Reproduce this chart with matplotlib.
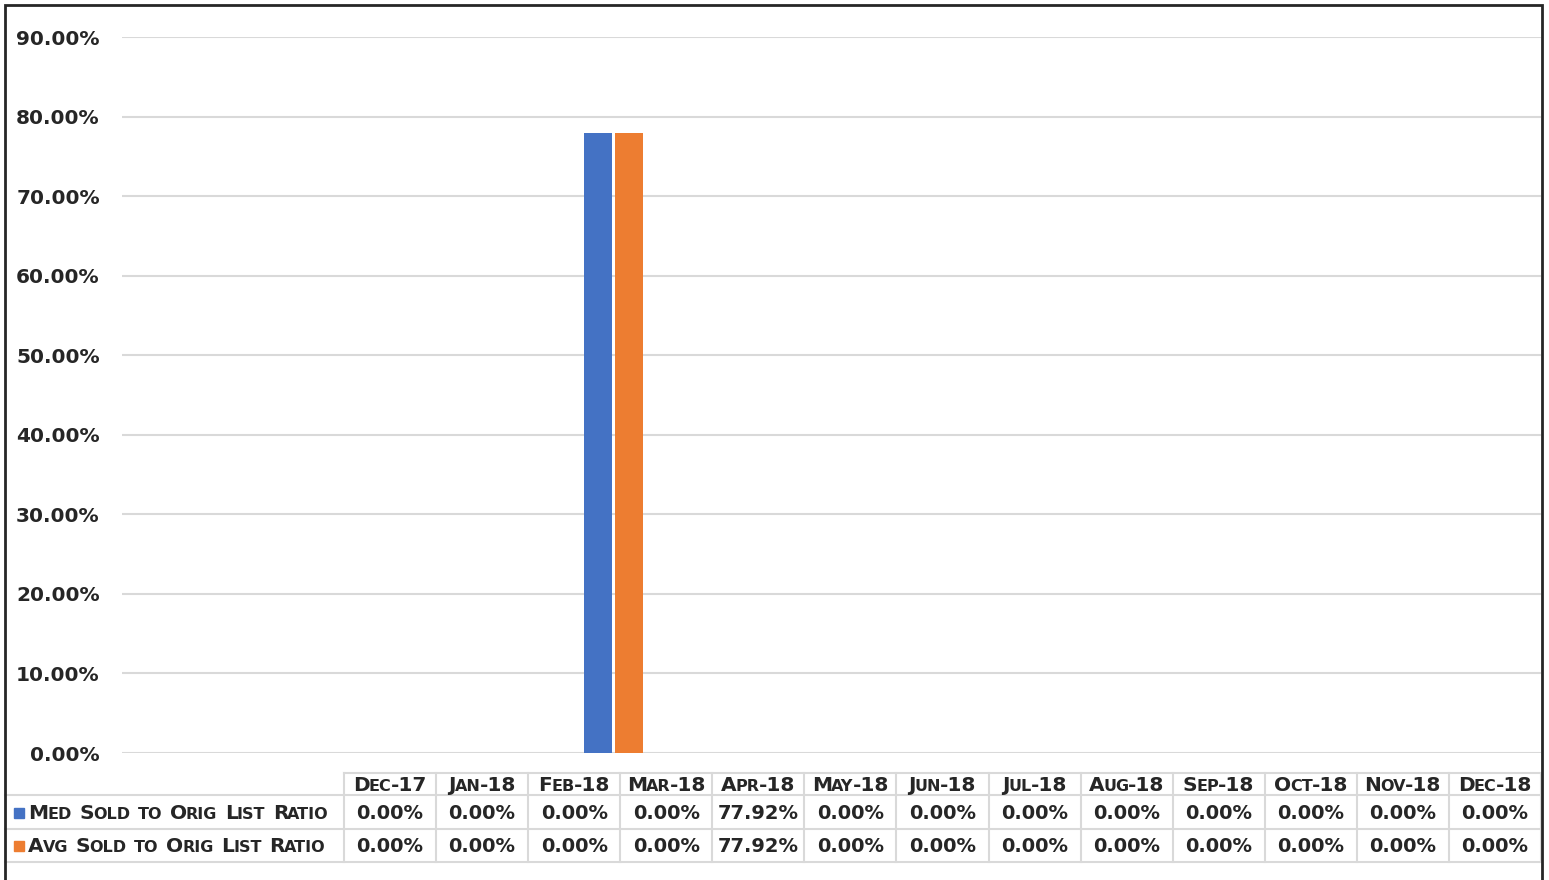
import matplotlib
matplotlib.use("Agg")
import matplotlib.pyplot as plt
from matplotlib.ticker import FuncFormatter
import numpy as np

# data
months = ["Dec-17", "Jan-18", "Feb-18", "Mar-18", "Apr-18", "May-18", "Jun-18",
          "Jul-18", "Aug-18", "Sep-18", "Oct-18", "Nov-18", "Dec-18"]
med_ratio = [0.0, 0.0, 0.0, 0.0, 0.7792, 0.0, 0.0, 0.0, 0.0, 0.0, 0.0, 0.0, 0.0]
avg_ratio = [0.0, 0.0, 0.0, 0.0, 0.7792, 0.0, 0.0, 0.0, 0.0, 0.0, 0.0, 0.0, 0.0]
series_names = ["Med Sold to Orig List Ratio", "Avg Sold to Orig List Ratio"]
colors = ["#4472C4", "#ED7D31"]

W, H = 1549, 880
TXT = "#262626"
GRID = "#d9d9d9"
BIG, SMALL = 14.5, 11.5

fig = plt.figure(figsize=(W / 100, H / 100), dpi=100)
fig.patch.set_facecolor("white")

# main bar axes (pixel box: x 122..1541, y 37..753)
ax = fig.add_axes([122 / W, (H - 753) / H, 1419 / W, (753 - 37) / H])
x = np.arange(len(months))
ax.bar(x - 0.142, med_ratio, width=0.256, color=colors[0], zorder=3)
ax.bar(x + 0.142, avg_ratio, width=0.256, color=colors[1], zorder=3)
ax.set_xlim(-0.5, len(months) - 0.5)
ax.set_ylim(0, 0.9)
ax.set_yticks(np.arange(0, 0.91, 0.1))
ax.yaxis.set_major_formatter(FuncFormatter(lambda v, p: f"{v:.2%}"))
ax.set_xticks([])
ax.grid(axis="y", color=GRID, linewidth=1.5, zorder=0)
ax.tick_params(axis="y", length=0, pad=16, labelsize=BIG, labelcolor=TXT)
for lbl in ax.get_yticklabels():
    lbl.set_fontweight("bold")
for sp in ax.spines.values():
    sp.set_visible(False)

# overlay in pixel coordinates for table and frame
ov = fig.add_axes([0, 0, 1, 1], zorder=5)
ov.set_xlim(0, W)
ov.set_ylim(H, 0)
ov.axis("off")
ov.patch.set_alpha(0)

renderer = fig.canvas.get_renderer()


def small_caps(xp, yp, s, ha="left"):
    # fake small caps: lowercase letters drawn as smaller capitals
    arts = []
    space = 0.38 * BIG * 100 / 72
    for wi, word in enumerate(s.split(" ")):
        runs = []
        for ch in word:
            sm = ch.islower()
            if runs and runs[-1][1] == sm:
                runs[-1][0] += ch.upper()
            else:
                runs.append([ch.upper(), sm])
        for ri, (txt, sm) in enumerate(runs):
            t = ov.text(0, yp, txt, fontsize=SMALL if sm else BIG, fontweight="bold",
                        color=TXT, ha="left", va="baseline")
            w = t.get_window_extent(renderer).width
            gap = space if (ri == 0 and wi > 0) else (-1 if ri > 0 else 0)
            arts.append((t, w, gap))
    total = sum(w + g for _, w, g in arts)
    start = {"left": xp, "center": xp - total / 2, "right": xp - total}[ha]
    cur = start
    for t, w, g in arts:
        cur += g
        t.set_x(cur)
        cur += w


# table grid
edges = np.linspace(344, 1541, len(months) + 1)
ov.plot([344, 1541], [773, 773], color=GRID, lw=1.5)
for yy in [795, 829, 862]:
    ov.plot([5, 1541], [yy, yy], color=GRID, lw=1.5)
for xe in edges:
    ov.plot([xe, xe], [773, 862], color=GRID, lw=1.5)

centers = (edges[:-1] + edges[1:]) / 2
for c, m in zip(centers, months):
    small_caps(c, 791, m, ha="center")

rows = [med_ratio, avg_ratio]
baselines = [819, 852]
for vals, name, col, yb in zip(rows, series_names, colors, baselines):
    ov.add_patch(plt.Rectangle((14, yb - 11), 10, 10, color=col))
    small_caps(28, yb, name)
    for c, v in zip(centers, vals):
        ov.text(c, yb, f"{v:.2%}", fontsize=BIG - 0.5, fontweight="bold", color=TXT,
                ha="center", va="baseline")

# outer frame (no bottom edge visible)
ov.plot([5.5, 5.5, 1542, 1542], [H, 5.5, 5.5, H], color="#262626", lw=2,
        solid_joinstyle="miter")

fig.savefig("out.png", dpi=100)
